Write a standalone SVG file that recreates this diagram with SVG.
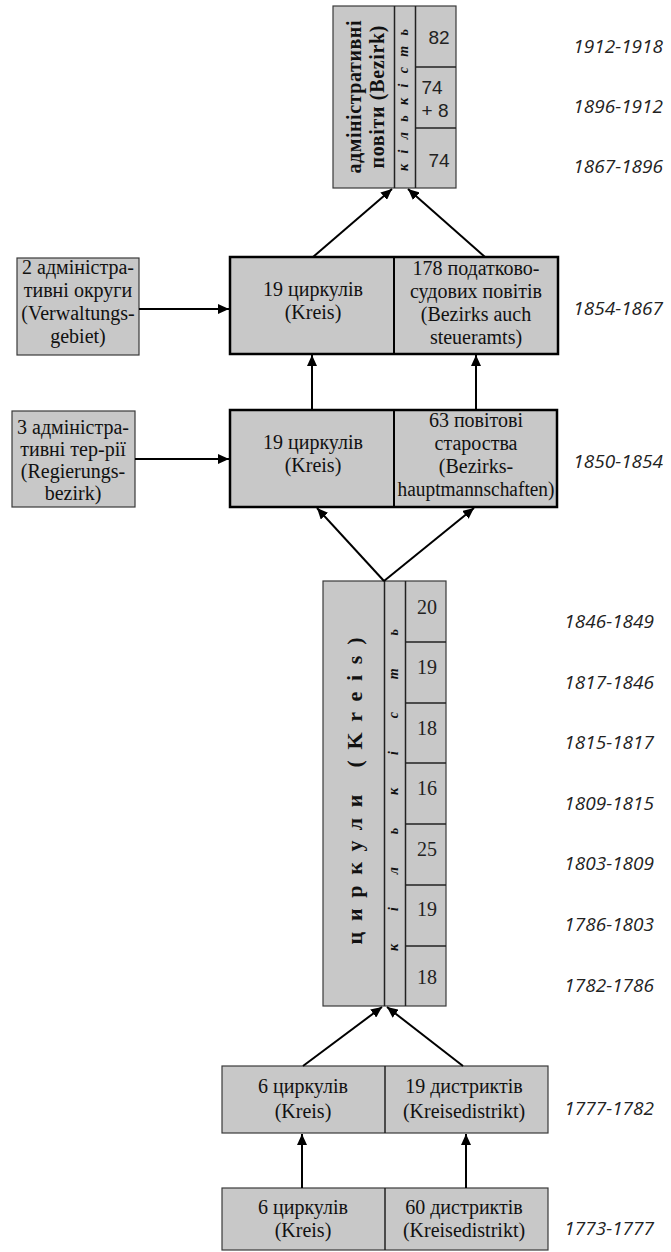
<svg xmlns="http://www.w3.org/2000/svg" width="671" height="1252" viewBox="0 0 671 1252">
<style>
  .box { fill: #c8c8c8; stroke: #3a3a3a; stroke-width: 1.2; }
  .bold-box { fill: #c8c8c8; stroke: #000; stroke-width: 2.5; }
  .div { stroke: #222; stroke-width: 1.5; fill: none; }
  .div-thick { stroke: #000; stroke-width: 2; fill: none; }
  .t { font-family: "Liberation Serif", "Times New Roman", serif; font-size: 20px; fill: #111; text-anchor: middle; }
  .num { font-family: "Liberation Serif", "Times New Roman", serif; font-size: 20px; fill: #222; text-anchor: middle; }
  .nums { font-family: "Liberation Sans", Arial, sans-serif; font-size: 19px; fill: #222; text-anchor: middle; }
  .vt { font-family: "Liberation Serif", "Times New Roman", serif; font-weight: bold; fill: #111; text-anchor: middle; }
  .vk { font-family: "Liberation Serif", "Times New Roman", serif; font-weight: bold; font-style: italic; font-size: 14px; fill: #111; text-anchor: middle; }
  .date { font-family: "Open Sans", "Liberation Sans", sans-serif; font-style: italic; font-size: 19px; fill: #222; text-anchor: end; }
  .conn line { stroke: #000; stroke-width: 2; marker-end: url(#arr); }
</style>
<defs>
  <marker id="arr" markerUnits="userSpaceOnUse" markerWidth="12" markerHeight="10" refX="11" refY="5" orient="auto">
    <path d="M0,0 L11,5 L0,10 Z" fill="#000"/>
  </marker>
</defs>

<!-- Top block: administrative districts (Bezirk) -->
<g id="node-bezirk">
  <rect class="box" x="333" y="6" width="123" height="182"/>
  <line class="div" x1="394.5" y1="6" x2="394.5" y2="188"/>
  <line class="div" x1="415.5" y1="6" x2="415.5" y2="188"/>
  <line class="div" x1="415.5" y1="67" x2="456" y2="67"/>
  <line class="div" x1="415.5" y1="128" x2="456" y2="128"/>
  <text class="vt" font-size="20" transform="translate(361,97) rotate(-90)" textLength="153" lengthAdjust="spacing">адміністративні</text>
  <text class="vt" font-size="20" transform="translate(384,97) rotate(-90)" textLength="143" lengthAdjust="spacing">повіти (Bezirk)</text>
  <text class="vk" transform="translate(408,100) rotate(-90)" textLength="142" lengthAdjust="spacing">кількість</text>
  <text class="nums" x="439" y="44">82</text>
  <text class="nums" x="432" y="94">74</text>
  <text class="nums" x="435" y="117">+ 8</text>
  <text class="nums" x="439" y="167">74</text>
</g>

<!-- 1854-1867 -->
<g id="node-verwaltungsgebiet">
  <rect class="box" x="17" y="258" width="122" height="97"/>
  <text class="t" x="78" y="274">2 адміністра-</text>
  <text class="t" x="78" y="297">тивні округи</text>
  <text class="t" x="78" y="320">(Verwaltungs-</text>
  <text class="t" x="78" y="343">gebiet)</text>
</g>
<g id="node-1854">
  <rect class="bold-box" x="230" y="257" width="328" height="97"/>
  <line class="div-thick" x1="394" y1="257" x2="394" y2="354"/>
  <text class="t" x="313" y="296">19 циркулів</text>
  <text class="t" x="313" y="319">(Kreis)</text>
  <text class="t" x="476" y="275">178 податково-</text>
  <text class="t" x="476" y="298">судових повітів</text>
  <text class="t" x="476" y="321">(Bezirks auch</text>
  <text class="t" x="476" y="344">steueramts)</text>
</g>

<!-- 1850-1854 -->
<g id="node-regierungsbezirk">
  <rect class="box" x="12" y="411" width="123" height="96"/>
  <text class="t" x="73" y="434">3 адміністра-</text>
  <text class="t" x="73" y="456">тивні тер-рії</text>
  <text class="t" x="73" y="478">(Regierungs-</text>
  <text class="t" x="73" y="500">bezirk)</text>
</g>
<g id="node-1850">
  <rect class="bold-box" x="230" y="410" width="327" height="97"/>
  <line class="div-thick" x1="394" y1="410" x2="394" y2="507"/>
  <text class="t" x="313" y="449">19 циркулів</text>
  <text class="t" x="313" y="472">(Kreis)</text>
  <text class="t" x="476" y="427">63 повітові</text>
  <text class="t" x="476" y="450">староства</text>
  <text class="t" x="476" y="473">(Bezirks-</text>
  <text class="t" x="476" y="496" textLength="157" lengthAdjust="spacingAndGlyphs">hauptmannschaften)</text>
</g>

<!-- Tall block: Kreis 1782-1849 -->
<g id="node-kreis">
  <rect class="box" x="323" y="581" width="123" height="425"/>
  <line class="div" x1="384.5" y1="581" x2="384.5" y2="1006"/>
  <line class="div" x1="405.5" y1="581" x2="405.5" y2="1006"/>
  <line class="div" x1="405.5" y1="642" x2="446" y2="642"/>
  <line class="div" x1="405.5" y1="703" x2="446" y2="703"/>
  <line class="div" x1="405.5" y1="763" x2="446" y2="763"/>
  <line class="div" x1="405.5" y1="824" x2="446" y2="824"/>
  <line class="div" x1="405.5" y1="885" x2="446" y2="885"/>
  <line class="div" x1="405.5" y1="946" x2="446" y2="946"/>
  <text class="vt" font-size="22" transform="translate(362,791) rotate(-90)" textLength="307" lengthAdjust="spacing">циркули (Kreis)</text>
  <text class="vk" transform="translate(398,790) rotate(-90)" textLength="322" lengthAdjust="spacing">кількість</text>
  <text class="num" x="427" y="614">20</text>
  <text class="num" x="427" y="674">19</text>
  <text class="num" x="427" y="735">18</text>
  <text class="num" x="427" y="795">16</text>
  <text class="num" x="427" y="856">25</text>
  <text class="num" x="427" y="916">19</text>
  <text class="num" x="427" y="984">18</text>
</g>

<!-- 1777-1782 -->
<g id="node-1777">
  <rect class="box" x="222" y="1066" width="326" height="67"/>
  <line class="div" x1="385" y1="1066" x2="385" y2="1133"/>
  <text class="t" x="303" y="1093">6 циркулів</text>
  <text class="t" x="303" y="1118">(Kreis)</text>
  <text class="t" x="464" y="1093">19 дистриктів</text>
  <text class="t" x="464" y="1118">(Kreisedistrikt)</text>
</g>

<!-- 1773-1777 -->
<g id="node-1773">
  <rect class="box" x="222" y="1188" width="326" height="62"/>
  <line class="div" x1="385" y1="1188" x2="385" y2="1250"/>
  <text class="t" x="303" y="1214">6 циркулів</text>
  <text class="t" x="303" y="1237">(Kreis)</text>
  <text class="t" x="464" y="1214">60 дистриктів</text>
  <text class="t" x="464" y="1237">(Kreisedistrikt)</text>
</g>

<!-- Dates -->
<g id="dates">
  <text class="date" x="663" y="53">1912-1918</text>
  <text class="date" x="663" y="113">1896-1912</text>
  <text class="date" x="663" y="173">1867-1896</text>
  <text class="date" x="663" y="315">1854-1867</text>
  <text class="date" x="663" y="468">1850-1854</text>
  <text class="date" x="654" y="628">1846-1849</text>
  <text class="date" x="654" y="689">1817-1846</text>
  <text class="date" x="654" y="749">1815-1817</text>
  <text class="date" x="654" y="810">1809-1815</text>
  <text class="date" x="654" y="870">1803-1809</text>
  <text class="date" x="654" y="931">1786-1803</text>
  <text class="date" x="654" y="992">1782-1786</text>
  <text class="date" x="654" y="1115">1777-1782</text>
  <text class="date" x="654" y="1235">1773-1777</text>
</g>

<!-- Connectors -->
<g id="connectors" class="conn">
  <line x1="313" y1="257" x2="392" y2="189"/>
  <line x1="485" y1="257" x2="408" y2="189"/>
  <line x1="312" y1="410" x2="312" y2="355"/>
  <line x1="476" y1="410" x2="476" y2="355"/>
  <line x1="139" y1="309" x2="229" y2="309"/>
  <line x1="135" y1="459" x2="229" y2="459"/>
  <line x1="384" y1="581" x2="317" y2="508"/>
  <line x1="384" y1="581" x2="474" y2="508"/>
  <line x1="303" y1="1066" x2="382" y2="1007"/>
  <line x1="463" y1="1066" x2="387" y2="1007"/>
  <line x1="302" y1="1188" x2="302" y2="1134"/>
  <line x1="466" y1="1188" x2="466" y2="1134"/>
</g>
</svg>
